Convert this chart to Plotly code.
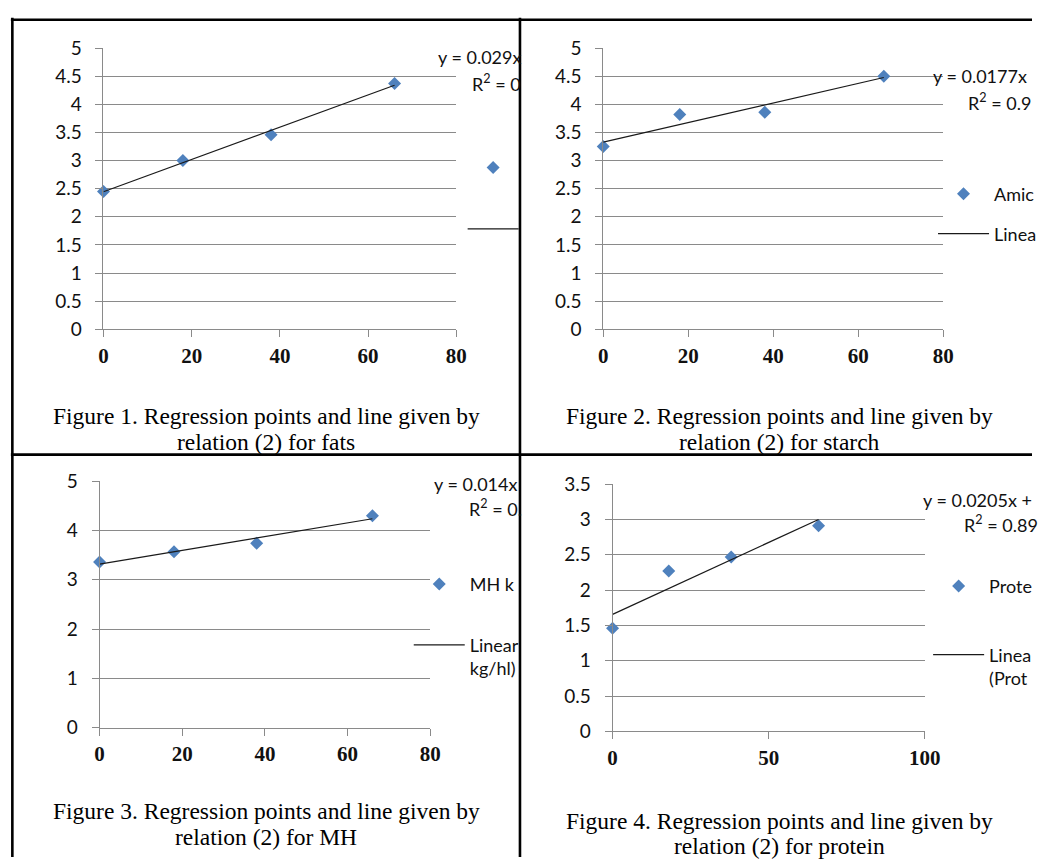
import numpy as np
import plotly.graph_objects as go

W, H = 1048, 868

# ---------------- data ----------------
x_dose = [0, 18, 38, 66]
fats = [2.45, 3.00, 3.46, 4.37]
starch = [3.25, 3.82, 3.86, 4.50]
mh = [3.36, 3.57, 3.74, 4.30]
protein = [1.46, 2.27, 2.47, 2.91]

eq_fats = ["y = 0.029x", "R<sup>2</sup> = 0"]
eq_starch = ["y = 0.0177x", "R<sup>2</sup> = 0.9"]
eq_mh = ["y = 0.014x", "R<sup>2</sup> = 0."]
eq_protein = ["y = 0.0205x +", "R<sup>2</sup> = 0.89"]

legend_fats = ["", ""]
legend_starch = ["Amic", "Linea"]
legend_mh = ["MH k", "Linear<br>kg/hl)"]
legend_protein = ["Prote", "Linea<br>(Prot"]

cap_fats = ["Figure 1. Regression points and line given by", "relation (2) for fats"]
cap_starch = ["Figure 2. Regression points and line given by", "relation (2) for starch"]
cap_mh = ["Figure 3. Regression points and line given by", "relation (2) for MH"]
cap_protein = ["Figure 4. Regression points and line given by", "relation (2) for protein"]

# ---------------- styling ----------------
BLUE = "#4F81BD"
GRID = "#8a8a8a"
SANS = "Lato"
SERIF = "Liberation Serif"
CHART_FS = 18

def px(x):
    return x / W

def py(y):
    return 1 - y / H

panels = [
    dict(y=fats, eq=eq_fats, leg=legend_fats, cap=cap_fats,
         xdom=(100.5, 460.5), ydom=(326, 37), xr=[0, 80], xd=20, yr=[0, 5], yd=0.5,
         eqpos=[(440, 46), (475, 73)], legx=467, legy=[160, 223], two=False,
         capx=266.5, capy=[415, 442]),
    dict(y=starch, eq=eq_starch, leg=legend_starch, cap=cap_starch,
         xdom=(610.5, 957.5), ydom=(326, 37), xr=[0, 80], xd=20, yr=[0, 5], yd=0.5,
         eqpos=[(945, 66), (981, 92)], legx=947, legy=[187, 228], two=False,
         capx=790, capy=[415, 442]),
    dict(y=mh, eq=eq_mh, leg=legend_mh, cap=cap_mh,
         xdom=(96.5, 434), ydom=(735, 482), xr=[0, 80], xd=20, yr=[0, 5], yd=1,
         eqpos=[(436, 485), (471, 509)], legx=412, legy=[588, 648], two=True,
         capx=266.5, capy=[821, 847]),
    dict(y=protein, eq=eq_protein, leg=legend_protein, cap=cap_protein,
         xdom=(620, 938.5), ydom=(739, 485), xr=[0, 100], xd=50, yr=[0, 3.5], yd=0.5,
         eqpos=[(935, 501), (977, 526)], legx=942, legy=[590, 658], two=True,
         capx=790, capy=[831, 857]),
]

fig = go.Figure()
annotations = []
shapes = []
legends = {}
leg_idx = 0

for i, p in enumerate(panels):
    sfx = "" if i == 0 else str(i + 1)
    xa, ya = "x" + sfx, "y" + sfx
    xs = np.array(x_dose, dtype=float)
    ys = np.array(p["y"], dtype=float)
    slope, intercept = np.polyfit(xs, ys, 1)
    xl = np.array([xs.min(), xs.max()])
    yl = slope * xl + intercept

    ids = []
    for k in range(2):
        leg_idx += 1
        ids.append("legend" if leg_idx == 1 else "legend%d" % leg_idx)

    fig.add_trace(go.Scatter(
        x=xs, y=ys, mode="markers", name=p["leg"][0], legend=ids[0],
        marker=dict(symbol="diamond", size=10, color=BLUE, line=dict(width=0)),
        cliponaxis=False, xaxis=xa, yaxis=ya, showlegend=True))
    fig.add_trace(go.Scatter(
        x=xl, y=yl, mode="lines", name=p["leg"][1], legend=ids[1],
        line=dict(color="#1a1a1a", width=1.2),
        cliponaxis=False, xaxis=xa, yaxis=ya, showlegend=True))

    for k in range(2):
        two_line = p["two"] and k == 1
        # for two-line entries the symbol sits on the first text line
        ly = p["legy"][k] - 16.5 if two_line else p["legy"][k]
        legends[ids[k]] = dict(
            x=px(p["legx"]), y=py(ly), xanchor="left",
            yanchor="top" if two_line else "middle",
            bgcolor="rgba(0,0,0,0)", borderwidth=0, itemwidth=51,
            valign="top" if two_line else "middle",
            font=dict(family=SANS, size=CHART_FS, color="#111"),
            itemclick=False, itemdoubleclick=False)

    xkey = "xaxis" if i == 0 else "xaxis%d" % (i + 1)
    ykey = "yaxis" if i == 0 else "yaxis%d" % (i + 1)
    fig.layout[xkey] = dict(
        domain=[px(p["xdom"][0]), px(p["xdom"][1])], range=p["xr"], tick0=0, dtick=p["xd"],
        anchor=ya, showgrid=False, zeroline=False, showline=True, linecolor=GRID, linewidth=1,
        ticks="outside", ticklen=7, tickcolor=GRID, tickwidth=1, ticklabelstandoff=0,
        tickfont=dict(family=SERIF, size=21, color="#111", weight="bold"), fixedrange=True)
    fig.layout[ykey] = dict(
        domain=[py(p["ydom"][0]), py(p["ydom"][1])], range=p["yr"], tick0=0, dtick=p["yd"],
        anchor=xa, showgrid=True, gridcolor=GRID, gridwidth=1, zeroline=False,
        showline=True, linecolor=GRID, linewidth=1,
        ticks="outside", ticklen=7, tickcolor=GRID, tickwidth=1, ticklabelstandoff=10,
        tickfont=dict(family=SANS, size=19, color="#111"), fixedrange=True)

    for t, (ex, ey) in zip(p["eq"], p["eqpos"]):
        annotations.append(dict(text=t, x=px(ex), y=py(ey), xref="paper", yref="paper",
                                xanchor="left", yanchor="middle", showarrow=False,
                                font=dict(family=SANS, size=CHART_FS, color="#111")))
    for t, cy in zip(p["cap"], p["capy"]):
        annotations.append(dict(text=t, x=px(p["capx"]), y=py(cy), xref="paper", yref="paper",
                                xanchor="center", yanchor="middle", showarrow=False,
                                font=dict(family=SERIF, size=23.5, color="#000")))

# table borders
border = dict(color="black", width=2.6)
for (x0, y0, x1, y1) in [(6, 8, W, 8), (7.5, 6, 7.5, H), (525.5, 6, 525.5, H), (6, 454.7, W, 454.7)]:
    shapes.append(dict(type="line", xref="paper", yref="paper", layer="above",
                       x0=px(x0), y0=py(y0), x1=px(x1), y1=py(y1), line=border))

fig.update_layout(
    width=W, height=H, margin=dict(l=0, r=0, t=0, b=0),
    paper_bgcolor="white", plot_bgcolor="white",
    annotations=annotations, shapes=shapes, showlegend=True,
    **legends)

fig.write_html("out.html")
